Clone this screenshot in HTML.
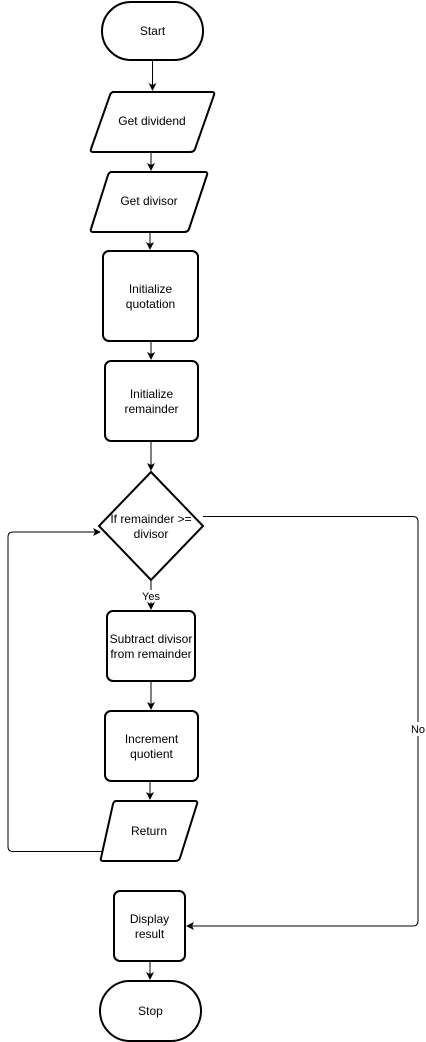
<!DOCTYPE html>
<html><head><meta charset="utf-8"><style>
html,body{margin:0;padding:0;background:#fff;}
svg{display:block;}
text{font-family:"Liberation Sans",sans-serif;font-size:12px;fill:#000;text-anchor:middle;}
.s{fill:#fff;stroke:#000;stroke-width:2;}
.l{fill:none;stroke:#000;stroke-width:1;}
</style></head><body>
<svg width="426" height="1042" viewBox="0 0 426 1042" xmlns="http://www.w3.org/2000/svg">
<defs><marker id="a" markerWidth="8" markerHeight="8" refX="7" refY="4" orient="auto" markerUnits="userSpaceOnUse"><path d="M0,0 L8,4 L0,8 L2,4 Z" fill="#000"/></marker></defs>
<!-- connectors -->
<path class="l" d="M152.5,61 V90" marker-end="url(#a)"/>
<path class="l" d="M151,152 V170" marker-end="url(#a)"/>
<path class="l" d="M150,232 V249" marker-end="url(#a)"/>
<path class="l" d="M151,341 V359" marker-end="url(#a)"/>
<path class="l" d="M151,441 V470" marker-end="url(#a)"/>
<path class="l" d="M151,580 V609" marker-end="url(#a)"/>
<path class="l" d="M151,681 V709" marker-end="url(#a)"/>
<path class="l" d="M150,781 V799" marker-end="url(#a)"/>
<path class="l" d="M150,961 V979" marker-end="url(#a)"/>
<path class="l" d="M203,516.5 H413 Q418,516.5 418,521.5 V921 Q418,926 413,926 H187" marker-end="url(#a)"/>
<path class="l" d="M103,851.5 H13 Q8,851.5 8,846.5 V537 Q8,532 13,532 H100" marker-end="url(#a)"/>
<!-- shapes -->
<rect class="s" x="102" y="2" width="101" height="58" rx="29"/>
<text x="152.5" y="35">Start</text>
<path class="s" d="M112,92 H212 Q215,92 214,95 L195,149 Q194,152 190,152 H93 Q90,152 91,149 L110,95 Q111,92 114,92 Z"/>
<text x="152" y="125">Get dividend</text>
<path class="s" d="M110,172 H205 Q208,172 207,175 L189,229 Q188,232 184,232 H93 Q90,232 91,229 L108,175 Q109,172 112,172 Z"/>
<text x="149" y="205">Get divisor</text>
<rect class="s" x="103" y="251" width="95" height="90" rx="6"/>
<text x="150.5" y="293">Initialize</text><text x="150.5" y="308">quotation</text>
<rect class="s" x="105" y="361" width="93" height="80" rx="6"/>
<text x="151.5" y="398">Initialize</text><text x="151.5" y="413">remainder</text>
<path class="s" d="M151,472 L203,526 L151,580 L99,526 Z"/>
<text x="151" y="523">If remainder &gt;=</text><text x="151" y="538">divisor</text>
<rect x="140" y="590" width="24" height="12" fill="#fff"/>
<text x="151" y="600" style="font-size:11px">Yes</text>
<rect class="s" x="107" y="611" width="88" height="70" rx="6"/>
<text x="151" y="643">Subtract divisor</text><text x="151" y="658">from remainder</text>
<rect class="s" x="105" y="711" width="93" height="70" rx="6"/>
<text x="151.5" y="743">Increment</text><text x="151.5" y="758">quotient</text>
<path class="s" d="M116,801 H195 Q198,801 197,804 L180,858 Q179,861 175,861 H103 Q100,861 101,858 L113,804 Q114,801 116,801 Z"/>
<text x="149" y="835">Return</text>
<rect class="s" x="114" y="891" width="71" height="70" rx="6"/>
<text x="149.5" y="923">Display</text><text x="149.5" y="938">result</text>
<rect class="s" x="100" y="981" width="101" height="60" rx="30"/>
<text x="150.5" y="1015">Stop</text>
<rect x="408" y="722" width="20" height="14" fill="#fff"/>
<text x="418" y="733" style="font-size:11px">No</text>
</svg>
</body></html>
